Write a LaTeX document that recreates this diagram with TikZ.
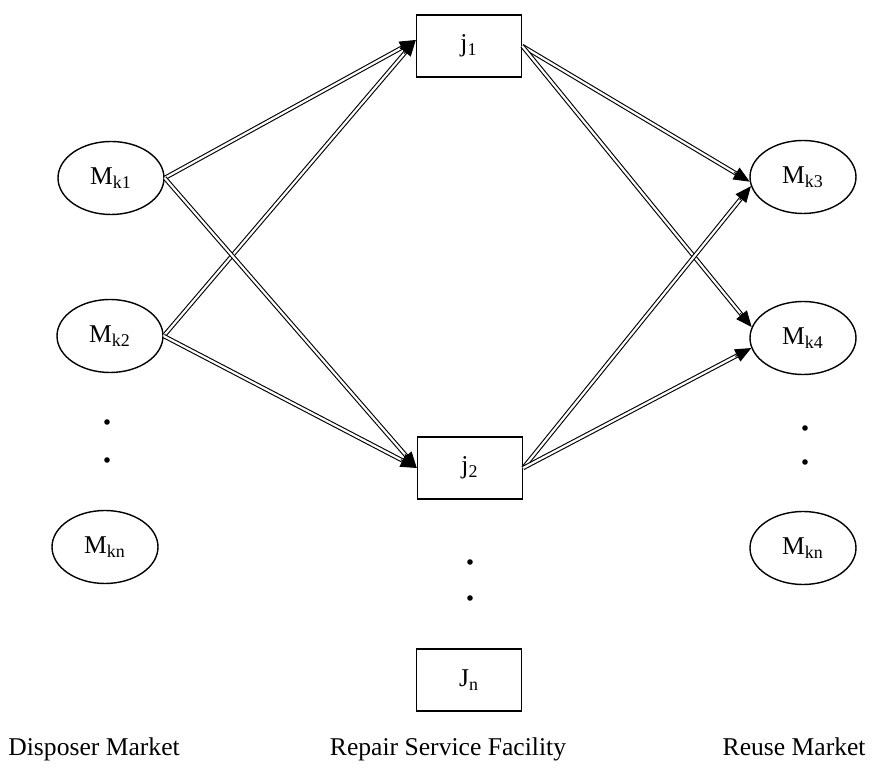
\documentclass[tikz,border=0pt]{standalone}
\usepackage{fontspec}
\setmainfont{Liberation Serif}
\usetikzlibrary{arrows.meta,shapes.geometric,calc}

% one double-lined flow: the double shaft, then a solid tip on top of its end
\newcommand\flowarrow[2]{%
  \draw[flowline] (#1) -- (#2);
  \draw[flowtip] ($(#2)!9pt!(#1)$) -- (#2);}

\begin{document}
\begin{tikzpicture}[x=0.5pt,y=-0.5pt,
  labelfont/.style={font=\fontsize{12.8}{15}\selectfont},
  market/.style={ellipse,draw,line width=0.7pt,minimum width=53pt,
    minimum height=36.5pt,inner sep=0pt,labelfont},
  facility/.style={rectangle,draw,line width=0.7pt,minimum width=52.5pt,
    minimum height=31pt,inner sep=0pt,labelfont},
  flowline/.style={double,double distance=1.1pt,line width=0.55pt,shorten >=6pt},
  flowtip/.style={line width=0.5pt,-{Triangle[length=8pt,width=6.8pt]}},
  dot/.style={circle,fill,inner sep=0pt,minimum size=2.8pt},
  caption/.style={labelfont,inner sep=0pt}]
\useasboundingbox (0,0) rectangle (874,774);

% disposer markets
\node[market] (mk1) at (111,178) {M\textsubscript{k1}};
\node[market] (mk2) at (110,336) {M\textsubscript{k2}};
\node[market] (mkn) at (105,547) {M\textsubscript{kn}};
\node[dot] (ld1) at (107,422) {};
\node[dot] (ld2) at (107,460) {};

% repair service facilities
\node[facility] (j1) at (469,46) {j\textsubscript{1}};
\node[facility] (j2) at (470,468) {j\textsubscript{2}};
\node[facility] (jn) at (469,680) {J\textsubscript{n}};
\node[dot] (md1) at (470,562) {};
\node[dot] (md2) at (470,598) {};

% reuse markets
\node[market] (mk3) at (803,177) {M\textsubscript{k3}};
\node[market] (mk4) at (803,338) {M\textsubscript{k4}};
\node[market] (mkr) at (803,548) {M\textsubscript{kn}};
\node[dot] (rd1) at (805,428) {};
\node[dot] (rd2) at (805,462) {};

% entry points on the facility boxes
\coordinate (j1in) at ([yshift=3pt]j1.west);

% flows into the facilities
\flowarrow{mk1.east}{j1in}
\flowarrow{mk2.east}{j1in}
\flowarrow{mk1.east}{j2.west}
\flowarrow{mk2.east}{j2.west}

% flows out to the reuse markets
\flowarrow{j1.east}{mk3.185}
\flowarrow{j1.east}{mk4.168}
\flowarrow{j2.east}{mk3.190}
\flowarrow{j2.east}{mk4.191}

% column captions, on one baseline
\node[caption,anchor=base west] (cap1) at (8,756) {Disposer Market};
\node[caption,anchor=base] (cap2) at (448,756) {Repair Service Facility};
\node[caption,anchor=base east] (cap3) at (866,756) {Reuse Market};
\end{tikzpicture}
\end{document}
